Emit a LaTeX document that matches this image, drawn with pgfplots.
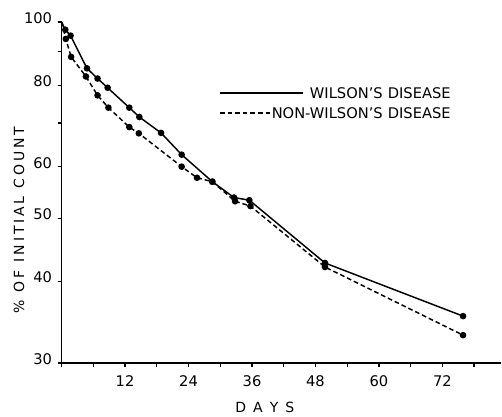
\documentclass[border=0pt]{standalone}
\usepackage{fontspec}
\setmainfont{DejaVu Sans}
\usepackage{pgfplots}
\pgfplotsset{compat=1.18}

% 1 px of the reference = 0.75pt here
\begin{document}
\begin{tikzpicture}
\fontsize{10.5}{13}\selectfont
\begin{axis}[
  at={(0,0)}, anchor=south west,
  scale only axis, width=329.25pt, height=255.75pt,
  ymode=log, xmin=0, xmax=83, ymin=30, ymax=100,
  axis x line*=bottom, axis y line*=left,
  axis line style={line width=1.2pt},
  xtick={0,6,...,78}, xticklabels={,,12,,24,,36,,48,,60,,72,},
  ytick={30,40,50,60,70,80,90,100}, yticklabels={30,40,50,60,,80,,100},
  yminorticks=false, xminorticks=false,
  tick align=outside, major tick length=3pt,
  tick style={line width=1pt, black},
  /pgf/number format/assume math mode=true,
  ticklabel style={font=\fontsize{11}{13}\selectfont},
  yticklabel style={anchor=base east, xshift=-0.5pt, yshift=-1pt},
  xticklabel style={yshift=-3pt},
  xlabel={D\hspace{0.5em}A\hspace{0.5em}Y\hspace{0.5em}S},
  xlabel style={at={(rel axis cs:0.463,-0.129)}, anchor=center},
  ylabel={\%\hspace{0.55em}O\hspace{0.2em}F\hspace{0.6em}I\hspace{0.2em}N\hspace{0.2em}I\hspace{0.2em}T\hspace{0.2em}I\hspace{0.2em}A\hspace{0.2em}L\hspace{0.6em}C\hspace{0.2em}O\hspace{0.2em}U\hspace{0.2em}N\hspace{0.2em}T},
  ylabel style={at={(rel axis cs:-0.097,0.419)}, anchor=center, rotate=0},
  clip=false,
]
\addplot[black, line width=1.1pt, mark=*, mark size=1.9pt, mark indices={2,3,...,15}] coordinates {
  (0,100) (0.7,97.3) (1.7,95.3) (4.8,84.9) (6.8,81.9) (8.7,79.3) (12.8,73.9)
  (14.7,71.5) (18.8,67.6) (22.7,62.6) (28.5,56.9) (32.6,53.8) (35.5,53.3)
  (49.8,42.7) (75.9,35.4)
};
\addplot[black, line width=1.1pt, dash pattern=on 3.5pt off 2.2pt, mark=*, mark size=1.9pt,
  mark options={solid}, mark indices={2,3,...,15}] coordinates {
  (0,100) (0.8,94.2) (1.8,88.4) (4.6,82.5) (6.8,77.2) (8.85,73.9) (12.8,69.0)
  (14.6,67.5) (22.7,60.0) (25.6,57.7) (28.5,56.9) (32.8,53.1) (35.7,52.2)
  (49.8,42.1) (75.9,33.1)
};
\end{axis}
% legend
\draw[line width=1.1pt] (118.8pt,202.5pt) -- (181.1pt,202.5pt);
\node[anchor=base east, inner sep=0pt, font=\fontsize{11}{13}\selectfont] at (292pt,198.5pt) {WILSON'S\hspace{0.35em}DISEASE};
\draw[line width=1.1pt, dash pattern=on 3.5pt off 2.2pt] (118.8pt,187.5pt) -- (158.6pt,187.5pt);
\node[anchor=base east, inner sep=0pt, font=\fontsize{11}{13}\selectfont] at (292pt,183.5pt) {NON-WILSON'S\hspace{0.35em}DISEASE};
% picture frame of the reference (502 x 416 px)
\useasboundingbox (-46.2pt,-39.75pt) rectangle (330.3pt,272.25pt);
\end{tikzpicture}
\end{document}
